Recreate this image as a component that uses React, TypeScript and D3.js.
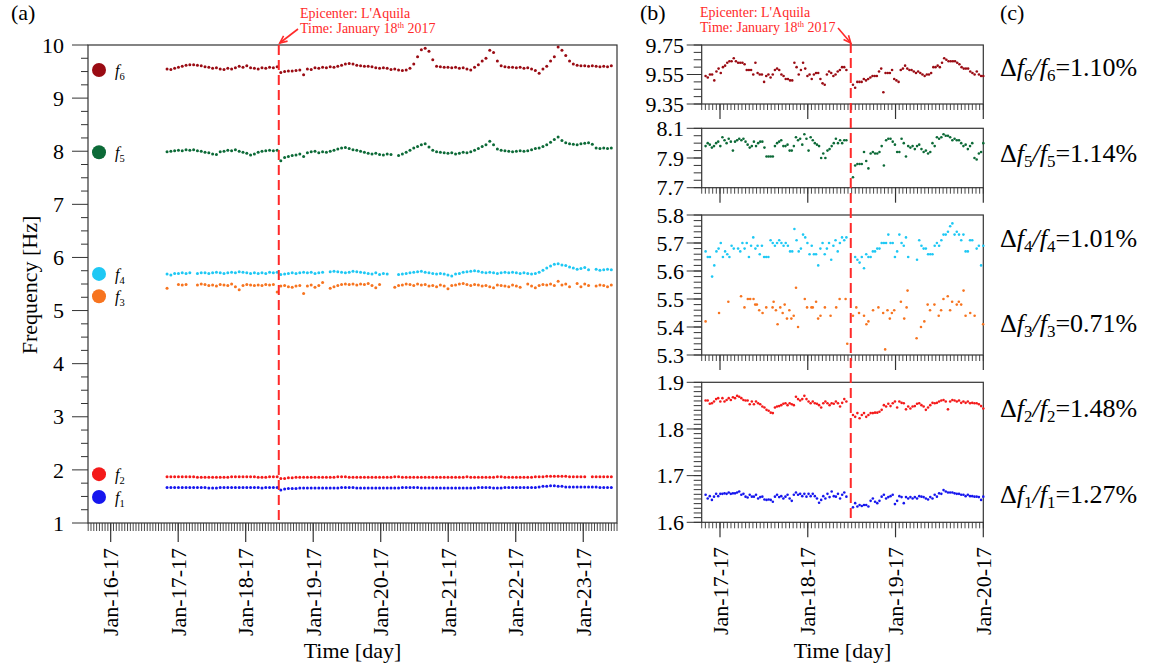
import React from "react";
import * as d3 from "d3";

// ---------------- timeline (day of January 2017) ----------------
const EPICENTER_DAY = 18.49;
const A_PRE_SPAN: [number, number] = [16.835, 18.466];
const A_POST_SPAN: [number, number] = [18.52, 23.416];
const B_PRE_SPAN: [number, number] = [16.836, 18.44];
const B_POST_SPAN: [number, number] = [18.515, 20.0];

const dayTicksA = [16, 17, 18, 19, 20, 21, 22, 23];
const dayTicksB = [17, 18, 19, 20];

// ---------------- panel (a) values [Hz] ----------------
const f6aPre = [9.55, 9.54, 9.56, 9.58, 9.60, 9.62, 9.63, 9.63, 9.62, 9.61, 9.59, 9.58, 9.56, 9.57, 9.55, 9.54, 9.56, 9.55, 9.57, 9.60, 9.58, 9.61, 9.57, 9.56, 9.55, 9.57, 9.56, 9.58, 9.57, 9.59];
const f6aPost = [9.48, 9.50, 9.51, 9.51, 9.52, 9.53, 9.44, 9.55, 9.54, 9.57, 9.56, 9.58, 9.57, 9.59, 9.58, 9.60, 9.62, 9.64, 9.65, 9.64, 9.62, 9.61, 9.60, 9.60, 9.59, 9.57, 9.56, 9.57, 9.56, 9.54, 9.55, 9.53, 9.52, 9.53, 9.56, 9.64, 9.78, 9.91, 9.94, 9.88, 9.72, 9.60, 9.59, 9.58, 9.58, 9.57, 9.58, 9.56, 9.57, 9.55, 9.53, 9.58, 9.63, 9.70, 9.75, 9.90, 9.86, 9.70, 9.61, 9.59, 9.58, 9.58, 9.57, 9.58, 9.56, 9.57, 9.55, 9.52, 9.47, 9.55, 9.60, 9.70, 9.78, 9.96, 9.90, 9.80, 9.70, 9.64, 9.62, 9.61, 9.61, 9.60, 9.61, 9.60, 9.59, 9.60, 9.59, 9.61];
const f5aPre = [7.99, 8.00, 8.01, 8.02, 8.01, 8.03, 8.02, 8.03, 8.01, 8.00, 7.98, 7.97, 7.95, 7.94, 7.99, 8.00, 8.02, 8.01, 8.03, 8.00, 7.98, 7.96, 7.93, 7.95, 7.98, 8.00, 8.01, 8.02, 8.01, 8.02];
const f5aPost = [7.82, 7.88, 7.90, 7.92, 7.93, 7.95, 7.90, 7.97, 7.99, 8.00, 7.97, 7.99, 7.98, 8.00, 8.02, 8.04, 8.06, 8.07, 8.05, 8.03, 8.02, 8.00, 7.98, 7.96, 7.95, 7.96, 7.94, 7.93, 7.95, 7.94, null, 7.92, 7.95, 7.98, 8.02, 8.06, 8.09, 8.12, 8.14, 8.08, 8.02, 7.99, 7.98, 7.97, 7.96, 7.97, 7.95, 7.96, 7.98, 7.97, 7.99, 8.02, 8.05, 8.09, 8.12, 8.19, 8.12, 8.04, 8.02, 8.01, 8.00, 7.99, 8.00, 8.01, 8.00, 8.01, 8.03, 8.05, 8.06, 8.09, 8.12, 8.17, 8.22, 8.27, 8.20, 8.16, 8.14, 8.13, 8.12, 8.14, 8.15, 8.16, 8.13, 8.06, 8.05, 8.06, 8.05, 8.06];
const f4aPre = [5.69, 5.67, 5.70, 5.70, 5.71, 5.70, 5.71, null, 5.70, 5.71, 5.71, 5.70, 5.71, 5.72, 5.71, 5.70, 5.71, 5.72, 5.71, 5.73, 5.72, 5.71, 5.70, 5.71, 5.70, 5.71, 5.70, 5.72, 5.71, 5.72];
const f4aPost = [5.68, 5.69, 5.70, 5.71, 5.70, 5.71, 5.72, 5.71, 5.72, 5.70, 5.71, 5.72, null, 5.73, 5.74, 5.73, 5.72, 5.71, 5.72, 5.74, 5.73, 5.72, 5.71, 5.70, 5.69, 5.71, 5.68, 5.70, 5.69, null, null, 5.68, 5.69, 5.70, 5.71, 5.72, 5.73, 5.74, 5.72, 5.71, 5.70, 5.69, 5.70, 5.69, 5.67, 5.65, 5.69, 5.70, 5.72, 5.73, 5.74, 5.75, 5.74, 5.72, 5.71, 5.72, 5.71, 5.70, 5.71, 5.72, 5.71, 5.72, 5.71, 5.70, 5.71, 5.70, 5.69, 5.70, 5.72, 5.76, 5.80, 5.84, 5.87, 5.88, 5.86, 5.85, 5.82, 5.80, 5.78, 5.79, 5.81, 5.77, null, 5.78, 5.76, 5.77, 5.78, 5.77];
const f3aPre = [5.42, null, null, 5.49, 5.48, 5.49, null, null, 5.48, 5.50, 5.49, 5.47, 5.48, 5.46, 5.49, 5.48, 5.47, 5.50, 5.45, 5.39, 5.47, 5.49, 5.48, 5.47, 5.48, 5.47, 5.49, 5.48, 5.49, 5.35];
const f3aPost = [5.46, 5.47, 5.45, 5.44, 5.46, 5.47, 5.32, 5.46, 5.48, 5.44, 5.47, 5.53, null, 5.42, 5.45, 5.47, 5.49, 5.50, 5.49, 5.50, 5.48, 5.50, 5.49, 5.51, 5.47, 5.43, 5.49, null, null, null, 5.44, 5.47, 5.48, 5.50, 5.49, 5.47, 5.50, 5.48, 5.49, 5.46, 5.47, 5.45, 5.48, 5.46, 5.41, 5.47, 5.48, 5.50, 5.51, 5.49, 5.47, 5.49, 5.48, 5.46, 5.47, 5.45, 5.43, 5.48, 5.47, 5.46, 5.45, 5.48, 5.46, 5.44, null, 5.50, 5.46, 5.43, 5.47, 5.49, 5.48, 5.50, 5.47, 5.55, 5.48, 5.50, 5.45, null, 5.51, 5.45, 5.50, 5.47, null, 5.46, 5.48, 5.47, 5.45, 5.48];
const f2aPre = [1.87, 1.87, 1.87, 1.87, 1.87, 1.87, 1.87, 1.87, 1.86, 1.86, 1.86, 1.86, 1.86, 1.86, 1.86, 1.86, 1.86, 1.87, 1.87, 1.87, 1.87, 1.87, 1.87, 1.87, 1.86, 1.86, 1.86, 1.87, 1.87, 1.87];
const f2aPost = [1.84, 1.84, 1.85, 1.85, 1.86, 1.86, 1.86, 1.86, 1.86, 1.86, 1.86, 1.86, 1.86, 1.86, 1.86, 1.87, 1.87, 1.87, 1.86, 1.86, 1.86, 1.86, 1.86, 1.86, 1.86, 1.86, 1.86, 1.86, 1.86, 1.86, 1.87, 1.87, 1.86, 1.86, 1.86, 1.86, 1.86, 1.86, 1.86, 1.86, 1.86, 1.86, 1.86, 1.86, 1.86, 1.86, 1.86, 1.86, 1.86, 1.87, 1.86, 1.86, 1.86, 1.86, 1.86, 1.86, 1.86, 1.87, 1.87, 1.86, 1.86, 1.86, 1.86, 1.86, 1.86, 1.86, 1.86, 1.87, 1.87, 1.87, 1.88, 1.88, 1.88, 1.88, 1.88, 1.88, 1.87, 1.87, 1.87, 1.87, 1.87, null, 1.87, 1.87, 1.87, 1.87, 1.87, 1.87];
const f1aPre = [1.67, 1.67, 1.67, 1.67, 1.67, 1.67, 1.67, 1.67, 1.67, 1.67, 1.67, 1.66, 1.66, 1.66, 1.67, 1.67, 1.67, 1.67, 1.67, 1.67, 1.67, 1.67, 1.67, 1.67, 1.67, 1.66, 1.67, 1.67, 1.67, 1.67];
const f1aPost = [1.62, 1.64, 1.65, 1.65, 1.65, 1.66, 1.66, 1.66, 1.66, 1.66, 1.66, 1.66, 1.66, 1.66, 1.66, 1.66, 1.67, 1.67, 1.67, 1.67, 1.66, 1.66, 1.66, 1.66, 1.66, 1.66, 1.66, 1.66, 1.66, 1.66, 1.66, 1.66, 1.67, 1.67, 1.67, 1.67, 1.67, 1.66, 1.66, 1.66, 1.66, 1.66, 1.66, 1.66, 1.66, 1.66, 1.66, 1.66, 1.66, 1.66, 1.66, 1.66, 1.67, 1.67, 1.67, 1.67, 1.66, 1.66, 1.66, 1.67, 1.67, 1.67, 1.67, 1.67, 1.67, 1.67, 1.67, 1.67, 1.68, 1.69, 1.69, 1.70, 1.70, 1.69, 1.69, 1.68, 1.68, 1.68, 1.68, 1.68, 1.68, 1.68, 1.68, 1.68, 1.67, 1.67, 1.67, 1.67];

// ---------------- panel (b) values [Hz] ----------------
const f6bPre = [9.54, 9.53, 9.55, 9.55, 9.51, 9.57, 9.59, 9.56, 9.60, 9.61, 9.63, 9.64, 9.64, 9.66, 9.64, 9.63, 9.63, 9.63, 9.62, 9.58, 9.58, 9.58, 9.55, 9.63, 9.56, 9.55, 9.55, 9.50, 9.54, 9.55, 9.53, 9.55, 9.58, 9.59, 9.58, 9.55, 9.54, 9.52, 9.52, 9.51, 9.51, 9.63, 9.60, 9.55, 9.58, 9.63, 9.59, 9.54, 9.55, 9.52, 9.55, 9.56, 9.56, 9.52, 9.49, 9.48, 9.55, 9.57, 9.56, 9.54, 9.55, 9.57, 9.58, 9.60, 9.60, 9.58];
const f6bPost = [9.48, 9.46, 9.50, 9.50, 9.50, 9.52, 9.51, 9.52, 9.53, 9.54, 9.54, 9.54, 9.57, 9.59, 9.43, 9.56, 9.56, 9.56, 9.58, 9.52, 9.51, 9.50, 9.58, 9.59, 9.61, 9.59, 9.58, 9.58, 9.57, 9.56, 9.57, 9.56, 9.55, 9.54, 9.55, 9.55, 9.56, 9.60, 9.60, 9.61, 9.60, 9.63, 9.66, 9.65, 9.64, 9.64, 9.64, 9.64, 9.63, 9.62, 9.60, 9.59, 9.59, 9.59, 9.57, 9.56, 9.55, 9.57, 9.55, 9.54, 9.54];
const f5bPre = [7.98, 8.00, 7.99, 7.97, 7.98, 8.00, 8.01, 7.98, 8.04, 8.02, 8.00, 8.03, 8.01, 7.95, 8.01, 8.02, 8.03, 8.02, 8.03, 8.01, 7.99, 7.97, 7.98, 8.01, 7.98, 8.00, 8.01, 8.01, 7.97, 7.91, 7.91, 7.91, 7.91, 7.98, 8.00, 8.01, 8.02, 7.98, 7.98, 7.99, 7.95, 7.95, 7.98, 8.04, 8.02, 8.03, 7.99, 8.06, 8.03, 7.95, 8.04, 8.02, 8.00, 7.99, 7.98, 7.90, 7.93, 7.90, 7.95, 7.96, 7.98, 8.00, 8.03, 8.00, 8.02, 8.00, 8.02, 8.02];
const f5bPost = [7.77, 7.85, 7.86, 7.86, 7.86, 7.94, 7.88, 7.83, 7.93, 7.94, 7.93, 7.93, 7.94, 7.98, 7.85, 8.02, 8.03, 8.03, 8.01, 7.99, 7.94, 7.94, 8.03, 8.00, 7.91, 7.98, 7.97, 7.98, 7.96, 7.98, 7.99, 7.96, 7.94, 7.95, 7.93, 7.94, 8.00, 7.98, 8.04, 8.03, 8.04, 8.06, 8.05, 8.05, 8.04, 8.02, 8.03, 8.02, 8.02, 8.00, 7.98, 7.99, 7.96, 7.98, 8.00, 7.90, 7.89, 7.93, 7.94, 8.00];
const f4bPre = [5.67, 5.65, 5.65, 5.58, 5.62, 5.67, 5.68, 5.70, 5.65, 5.67, 5.66, 5.65, 5.69, 5.68, null, 5.68, 5.67, 5.70, 5.68, 5.70, 5.65, 5.69, 5.72, 5.68, 5.69, 5.66, 5.69, 5.65, 5.65, 5.65, 5.71, 5.70, 5.69, 5.70, 5.71, 5.70, 5.69, 5.70, 5.69, 5.67, 5.67, 5.75, 5.71, 5.67, 5.68, 5.73, 5.72, 5.70, 5.66, 5.69, 5.66, 5.66, 5.62, 5.68, 5.70, 5.66, 5.68, 5.70, 5.64, 5.69, 5.71, 5.67, 5.70, 5.72, 5.71, 5.72];
const f4bPost = [null, 5.65, 5.64, 5.63, 5.65, 5.61, 5.66, 5.65, 5.65, 5.67, 5.67, 5.68, 5.68, 5.70, 5.70, 5.70, 5.73, 5.70, 5.70, 5.65, 5.67, 5.73, 5.70, 5.69, 5.72, 5.65, null, null, null, 5.64, 5.71, 5.69, 5.68, 5.68, 5.66, 5.66, 5.66, 5.69, 5.70, 5.69, 5.71, 5.73, 5.73, 5.74, 5.76, 5.77, 5.73, 5.74, 5.73, 5.71, 5.73, 5.67, 5.67, 5.71, 5.71, null, 5.68, 5.69, 5.62, 5.69];
const f3bDays = [16.836, 16.989, 17.095, 17.240, 17.279, 17.317, 17.344, 17.382, 17.401, 17.420, 17.447, 17.485, 17.527, 17.599, 17.611, 17.637, 17.656, 17.687, 17.714, 17.737, 17.763, 17.790, 17.813, 17.840, 17.866, 17.889, 17.966, 17.992, 18.042, 18.057, 18.095, 18.118, 18.145, 18.195, 18.260, 18.324, 18.363, 18.431, 18.450, 18.515, 18.553, 18.584, 18.641, 18.668, 18.691, 18.744, 18.805, 18.859, 18.882, 18.908, 18.935, 18.958, 18.985, 19.061, 19.099, 19.126, 19.137, 19.240, 19.290, 19.328, 19.366, 19.393, 19.443, 19.492, 19.519, 19.546, 19.595, 19.622, 19.645, 19.698, 19.721, 19.748, 19.775, 19.798, 19.851, 19.901, 19.998];
const f3bValues = [5.42, 5.45, 5.49, 5.51, 5.47, 5.50, 5.50, 5.50, 5.48, 5.48, 5.46, 5.45, 5.47, 5.47, 5.49, 5.46, 5.41, 5.47, 5.45, 5.48, 5.43, 5.46, 5.43, 5.44, 5.54, 5.40, 5.50, 5.47, 5.47, 5.47, 5.49, 5.43, 5.44, 5.47, 5.44, 5.47, 5.50, 5.50, 5.34, 5.44, 5.47, 5.45, 5.44, 5.41, 5.42, 5.46, 5.47, 5.45, 5.32, 5.46, 5.43, 5.45, 5.46, 5.49, 5.43, 5.47, 5.53, 5.36, 5.40, 5.42, 5.48, 5.46, 5.48, 5.44, 5.46, 5.50, 5.51, 5.46, 5.49, 5.48, 5.49, 5.48, 5.53, 5.44, 5.45, 5.44, 5.41];
const f2bPre = [1.861, 1.861, 1.854, 1.855, 1.859, 1.864, 1.866, 1.859, 1.866, 1.859, 1.862, 1.866, 1.862, 1.868, 1.866, 1.871, 1.869, 1.866, 1.862, 1.861, 1.861, 1.853, 1.859, 1.853, 1.859, 1.855, 1.853, 1.848, 1.846, 1.841, 1.839, 1.835, 1.834, 1.846, 1.848, 1.849, 1.851, 1.854, 1.855, 1.851, 1.855, 1.853, 1.851, 1.869, 1.864, 1.861, 1.864, 1.871, 1.864, 1.859, 1.855, 1.859, 1.855, 1.854, 1.851, 1.846, 1.855, 1.859, 1.855, 1.851, 1.855, 1.854, 1.859, 1.855, 1.848, 1.856, 1.864, 1.859];
const f2bPost = [1.830, 1.826, 1.834, 1.823, 1.830, 1.834, 1.826, 1.830, 1.834, 1.834, 1.835, 1.835, 1.837, 1.841, 1.851, 1.848, 1.854, 1.849, 1.855, 1.859, 1.846, 1.859, 1.856, 1.855, 1.842, 1.848, 1.844, 1.848, 1.849, 1.854, 1.855, 1.851, 1.848, 1.841, 1.846, 1.851, 1.856, 1.855, 1.856, 1.859, 1.861, 1.862, 1.859, 1.842, 1.859, 1.862, 1.861, 1.859, 1.861, 1.856, 1.859, 1.856, 1.859, 1.855, 1.856, 1.855, 1.855, 1.853, 1.849, 1.844];
const f1bPre = [1.659, 1.651, 1.656, 1.648, 1.655, 1.661, 1.656, 1.661, 1.661, 1.662, 1.661, 1.664, 1.661, 1.662, 1.662, 1.664, 1.666, 1.659, 1.661, 1.655, 1.653, 1.659, 1.655, 1.655, 1.659, 1.651, 1.654, 1.655, 1.649, 1.648, 1.649, 1.648, 1.644, 1.655, 1.659, 1.654, 1.656, 1.651, 1.655, 1.659, 1.651, 1.646, 1.659, 1.664, 1.659, 1.661, 1.656, 1.661, 1.655, 1.661, 1.656, 1.661, 1.656, 1.651, 1.642, 1.648, 1.656, 1.651, 1.661, 1.654, 1.666, 1.656, 1.655, 1.661, 1.651, 1.659, 1.664, 1.655];
const f1bPost = [1.632, 1.641, 1.634, 1.637, 1.635, 1.637, 1.637, 1.634, 1.646, 1.651, 1.644, 1.641, 1.646, 1.655, 1.659, 1.651, 1.654, 1.656, 1.659, 1.639, 1.646, 1.656, 1.654, 1.641, 1.654, 1.651, 1.654, 1.651, 1.654, 1.651, 1.656, 1.655, 1.654, 1.651, 1.649, 1.654, 1.651, 1.659, 1.655, 1.662, 1.661, 1.669, 1.666, 1.664, 1.664, 1.664, 1.662, 1.661, 1.661, 1.659, 1.659, 1.656, 1.659, 1.656, 1.656, 1.655, 1.655, 1.654, 1.648, 1.655];

// ---------------- panel (b) axis ticks ----------------
const ticksB6 = [9.35, 9.55, 9.75];
const ticksB5 = [7.7, 7.9, 8.1];
const ticksB43 = [5.3, 5.4, 5.5, 5.6, 5.7, 5.8];
const ticksB21 = [1.6, 1.7, 1.8, 1.9];

// ---------------- panel (c) ----------------
const changeModes = [6, 5, 4, 3, 2, 1];
const changePct = ["1.10", "1.14", "1.01", "0.71", "1.48", "1.27"];

const COLORS: Record<string, string> = {
  f1: "#1616ee",
  f2: "#f41a1a",
  f3: "#f7741f",
  f4: "#1ec8f4",
  f5: "#0c6a37",
  f6: "#9a0b13",
};

const FONT = "'Liberation Serif', 'Times New Roman', 'DejaVu Serif', serif";
const RED = "#ff2a2a";

type Pt = { t: number; v: number };
function spread(vals: (number | null)[], span: [number, number]): Pt[] {
  const n = vals.length;
  const out: Pt[] = [];
  vals.forEach((v, i) => {
    if (v == null) return;
    out.push({ t: span[0] + (i * (span[1] - span[0])) / (n - 1), v });
  });
  return out;
}

function Arrow({ x1, y1, x2, y2 }: { x1: number; y1: number; x2: number; y2: number }) {
  const ang = Math.atan2(y2 - y1, x2 - x1);
  const L = 8;
  const a = 0.42;
  const p1 = [x2 - L * Math.cos(ang - a), y2 - L * Math.sin(ang - a)];
  const p2 = [x2 - L * Math.cos(ang + a), y2 - L * Math.sin(ang + a)];
  return (
    <g stroke={RED} strokeWidth={1.6} fill="none">
      <line x1={x1} y1={y1} x2={x2} y2={y2} />
      <polyline points={`${p1[0]},${p1[1]} ${x2},${y2} ${p2[0]},${p2[1]}`} />
    </g>
  );
}

function Annotation({ x, y }: { x: number; y: number }) {
  return (
    <text x={x} y={y} fontSize={14} fill={RED}>
      <tspan x={x} y={y}>Epicenter: L'Aquila</tspan>
      <tspan x={x} y={y + 14.5}>Time: January 18</tspan>
      <tspan fontSize={8.5} dy={-5}>th</tspan>
      <tspan dy={5}> 2017</tspan>
    </text>
  );
}

function Dots({ pts, x, y, color, r }: { pts: Pt[]; x: (t: number) => number; y: (v: number) => number; color: string; r: number }) {
  return (
    <g fill={color}>
      {pts.map((d, i) => (
        <circle key={i} cx={x(d.t)} cy={y(d.v)} r={r} />
      ))}
    </g>
  );
}

function hourTicks(lo: number, hi: number) {
  const out: number[] = [];
  for (let h = Math.ceil(lo * 24 - 1e-6); h <= Math.floor(hi * 24 + 1e-6); h++) out.push(h / 24);
  return out;
}

function stepTicks(lo: number, hi: number, step: number) {
  const out: number[] = [];
  const k0 = Math.round(lo / step);
  const k1 = Math.round(hi / step);
  for (let k = k0; k <= k1; k++) out.push(Math.round(k * step * 10000) / 10000);
  return out;
}

export default function App() {
  // ---------- panel (a) ----------
  const aL = 88, aR = 617, aT = 45, aB = 523;
  const xA = d3.scaleLinear().domain([15.664, 23.5]).range([aL, aR]);
  const yA = d3.scaleLinear().domain([1, 10]).range([aB, aT]);

  const seriesA = [
    { key: "f6", pts: [...spread(f6aPre, A_PRE_SPAN), ...spread(f6aPost, A_POST_SPAN)] },
    { key: "f5", pts: [...spread(f5aPre, A_PRE_SPAN), ...spread(f5aPost, A_POST_SPAN)] },
    { key: "f4", pts: [...spread(f4aPre, A_PRE_SPAN), ...spread(f4aPost, A_POST_SPAN)] },
    { key: "f3", pts: [...spread(f3aPre, A_PRE_SPAN), ...spread(f3aPost, A_POST_SPAN)] },
    { key: "f2", pts: [...spread(f2aPre, A_PRE_SPAN), ...spread(f2aPost, A_POST_SPAN)] },
    { key: "f1", pts: [...spread(f1aPre, A_PRE_SPAN), ...spread(f1aPost, A_POST_SPAN)] },
  ];
  // legend anchors (in Hz on panel a axis)
  const legendA = [
    { key: "f6", sub: "6", at: 9.53 },
    { key: "f5", sub: "5", at: 7.98 },
    { key: "f4", sub: "4", at: 5.69 },
    { key: "f3", sub: "3", at: 5.27 },
    { key: "f2", sub: "2", at: 1.92 },
    { key: "f1", sub: "1", at: 1.49 },
  ];

  const yMajorA = d3.range(1, 11);
  const yMinorA = stepTicks(1, 10, 0.25).filter((v) => Math.abs(v - Math.round(v)) > 1e-6);
  const xMinorA = hourTicks(15.664, 23.5);

  // ---------- panel (b) ----------
  const bL = 701.7, bR = 983.3;
  const xB = d3.scaleLinear().domain([16.7915, 20.0]).range([bL, bR]);
  const xMinorB = hourTicks(16.7915, 20.0);

  const bPanels = [
    {
      top: 45, bottom: 104, domain: [9.35, 9.75], majors: ticksB6, minor: 0.05, fmt: d3.format(".2f"),
      series: [{ key: "f6", pts: [...spread(f6bPre, B_PRE_SPAN), ...spread(f6bPost, B_POST_SPAN)] }],
    },
    {
      top: 128.3, bottom: 187.7, domain: [7.7, 8.1], majors: ticksB5, minor: 0.05, fmt: d3.format(".1f"),
      series: [{ key: "f5", pts: [...spread(f5bPre, B_PRE_SPAN), ...spread(f5bPost, B_POST_SPAN)] }],
    },
    {
      top: 215, bottom: 355, domain: [5.3, 5.8], majors: ticksB43, minor: 0.02, fmt: d3.format(".1f"),
      series: [
        { key: "f4", pts: [...spread(f4bPre, B_PRE_SPAN), ...spread(f4bPost, B_POST_SPAN)] },
        { key: "f3", pts: f3bDays.map((t, i) => ({ t, v: f3bValues[i] })) },
      ],
    },
    {
      top: 382.3, bottom: 522.3, domain: [1.6, 1.9], majors: ticksB21, minor: 0.01, fmt: d3.format(".1f"),
      series: [
        { key: "f2", pts: [...spread(f2bPre, B_PRE_SPAN), ...spread(f2bPost, B_POST_SPAN)] },
        { key: "f1", pts: [...spread(f1bPre, B_PRE_SPAN), ...spread(f1bPost, B_POST_SPAN)] },
      ],
    },
  ];

  const changeY = [76, 162, 247, 332, 417, 503];

  const epiA = xA(EPICENTER_DAY);
  const epiB = xB(EPICENTER_DAY);

  return (
    <svg
      width={1150}
      height={668}
      style={{ position: "absolute", left: 0, top: 0, background: "#fff", fontFamily: FONT }}
    >
      <style>{`text, tspan { font-family: ${FONT}; }`}</style>
      <rect x={0} y={0} width={1150} height={668} fill="#fff" />

      {/* ================= Panel (a) ================= */}
      <text x={11} y={20} fontSize={22}>(a)</text>
      <rect x={aL} y={aT} width={aR - aL} height={aB - aT} fill="none" stroke="#333" strokeWidth={1.2} />

      {/* y ticks */}
      <g stroke="#333" strokeWidth={1}>
        {yMajorA.map((v) => (
          <line key={"ym" + v} x1={aL - 16} x2={aL} y1={yA(v)} y2={yA(v)} />
        ))}
        {yMinorA.map((v) => (
          <line key={"yn" + v} x1={aL - 7} x2={aL} y1={yA(v)} y2={yA(v)} />
        ))}
      </g>
      {yMajorA.map((v) => (
        <text key={"yl" + v} x={64} y={yA(v)} dy="0.35em" fontSize={22} textAnchor="end">
          {v}
        </text>
      ))}
      <text transform={`translate(37,285) rotate(-90)`} fontSize={22} textAnchor="middle">
        Frequency [Hz]
      </text>

      {/* x ticks */}
      <g stroke="#333" strokeWidth={0.9}>
        {xMinorA.map((t, i) => (
          <line key={"xn" + i} x1={xA(t)} x2={xA(t)} y1={aB} y2={aB + 8} />
        ))}
        {dayTicksA.map((d) => (
          <line key={"xm" + d} x1={xA(d)} x2={xA(d)} y1={aB} y2={aB + 19} strokeWidth={1.2} />
        ))}
      </g>
      {dayTicksA.map((d) => (
        <text
          key={"xl" + d}
          transform={`translate(${xA(d)},548) rotate(-90)`}
          dy="0.35em"
          fontSize={22}
          textAnchor="end"
        >
          {`Jan-${d}-17`}
        </text>
      ))}
      <text x={(aL + aR) / 2} y={658} fontSize={22} textAnchor="middle">
        Time [day]
      </text>

      {/* data */}
      {seriesA.map((s) => (
        <Dots key={s.key} pts={s.pts} x={xA} y={yA} color={COLORS[s.key]} r={1.5} />
      ))}

      {/* legend */}
      {legendA.map((l) => (
        <g key={"lg" + l.key}>
          <circle cx={99} cy={yA(l.at)} r={7} fill={COLORS[l.key]} />
          <text x={115} y={yA(l.at)} dy="0.35em" fontSize={16} fontStyle="italic">
            f
            <tspan fontSize={10.5} dy={4} fontStyle="normal">{l.sub}</tspan>
          </text>
        </g>
      ))}

      {/* epicenter */}
      <line x1={epiA} x2={epiA} y1={aT} y2={aB} stroke={RED} strokeWidth={2} strokeDasharray="10,5" />
      <Annotation x={300} y={18} />
      <Arrow x1={298} y1={29} x2={epiA + 1} y2={aT - 2} />

      {/* ================= Panel (b) ================= */}
      <text x={640} y={20} fontSize={22}>(b)</text>
      {bPanels.map((p, pi) => {
        const y = d3.scaleLinear().domain(p.domain).range([p.bottom, p.top]);
        const minors = stepTicks(p.domain[0], p.domain[1], p.minor);
        return (
          <g key={"bp" + pi}>
            <rect x={bL} y={p.top} width={bR - bL} height={p.bottom - p.top} fill="none" stroke="#333" strokeWidth={1.2} />
            <g stroke="#333" strokeWidth={1}>
              {minors.map((v, i) => (
                <line key={"bn" + i} x1={bL - 8} x2={bL} y1={y(v)} y2={y(v)} />
              ))}
              {p.majors.map((v, i) => (
                <line key={"bm" + i} x1={bL - 15} x2={bL} y1={y(v)} y2={y(v)} />
              ))}
              {xMinorB.map((t, i) => (
                <line key={"bxn" + i} x1={xB(t)} x2={xB(t)} y1={p.bottom} y2={p.bottom + 6} strokeWidth={0.9} />
              ))}
              {dayTicksB.map((d) => (
                <line key={"bxm" + d} x1={xB(d)} x2={xB(d)} y1={p.bottom} y2={p.bottom + 15} strokeWidth={1.2} />
              ))}
            </g>
            {p.majors.map((v, i) => (
              <text key={"bl" + i} x={684} y={y(v)} dy="0.35em" fontSize={22} textAnchor="end">
                {p.fmt(v)}
              </text>
            ))}
            {p.series.map((s) => (
              <Dots key={s.key} pts={s.pts} x={xB} y={y} color={COLORS[s.key]} r={1.3} />
            ))}
          </g>
        );
      })}
      {dayTicksB.map((d) => (
        <text
          key={"bxl" + d}
          transform={`translate(${xB(d)},547) rotate(-90)`}
          dy="0.35em"
          fontSize={22}
          textAnchor="end"
        >
          {`Jan-${d}-17`}
        </text>
      ))}
      <text x={(bL + bR) / 2} y={658} fontSize={22} textAnchor="middle">
        Time [day]
      </text>
      <line x1={epiB} x2={epiB} y1={43} y2={522.3} stroke={RED} strokeWidth={2} strokeDasharray="10,5" />
      <Annotation x={700} y={17} />
      <Arrow x1={838} y1={28} x2={epiB} y2={43} />

      {/* ================= Panel (c) ================= */}
      <text x={1000} y={20} fontSize={22}>(c)</text>
      {changeModes.map((m, i) => (
        <text key={"c" + m} x={1000} y={changeY[i]} fontSize={26}>
          Δ<tspan fontStyle="italic">f</tspan>
          <tspan fontSize={17} dy={5}>{m}</tspan>
          <tspan dy={-5} fontStyle="italic">/f</tspan>
          <tspan fontSize={17} dy={5}>{m}</tspan>
          <tspan dy={-5}>{`=${changePct[i]}%`}</tspan>
        </text>
      ))}
    </svg>
  );
}
